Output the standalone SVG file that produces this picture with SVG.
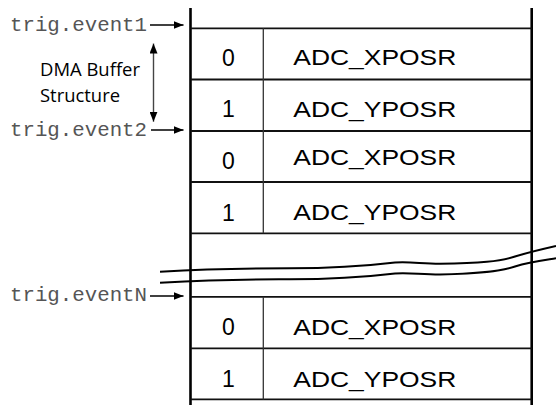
<svg xmlns="http://www.w3.org/2000/svg" width="556" height="405" viewBox="0 0 556 405">
<style>
.frame{stroke:#000;stroke-width:2.6;fill:none}
.hl{stroke:#111;stroke-width:1.8;fill:none}
.div{stroke:#333;stroke-width:1.3;fill:none}
.num{font-family:"Liberation Sans",Arial,sans-serif;font-size:23px;fill:#000;text-anchor:middle}
.reg{font-family:"Liberation Sans",Arial,sans-serif;font-size:22.5px;fill:#000}
.mono{font-family:"Liberation Mono","Courier New",monospace;font-size:20.7px;fill:#555}
.lbl{font-family:"Open Sans","Liberation Sans",sans-serif;font-size:18.5px;fill:#000}
.arr{stroke:#000;stroke-width:1.5;fill:none}
.dbl{stroke:#444;stroke-width:1.4;fill:none}
.wave{stroke:#000;stroke-width:2;fill:none}
</style>
<defs>
<marker id="ah" viewBox="0 0 10 8" refX="10" refY="4" markerWidth="10" markerHeight="8" markerUnits="userSpaceOnUse" orient="auto">
<path d="M0,0 L10,4 L0,8 Z" fill="#000"/>
</marker>
<marker id="ahs" viewBox="0 0 10 8" refX="10" refY="4" markerWidth="10" markerHeight="8" markerUnits="userSpaceOnUse" orient="auto-start-reverse">
<path d="M0,0 L10,4 L0,8 Z" fill="#000"/>
</marker>
</defs>
<g id="buffer-frame">
<line class="frame" x1="190.5" y1="8" x2="190.5" y2="405"/>
<line class="frame" x1="531.7" y1="8" x2="531.7" y2="405"/>
<line class="hl" x1="190.5" y1="28.3" x2="531.7" y2="28.3"/>
<line class="hl" x1="190.5" y1="79.5" x2="531.7" y2="79.5"/>
<line class="hl" x1="190.5" y1="131" x2="531.7" y2="131"/>
<line class="hl" x1="190.5" y1="182" x2="531.7" y2="182"/>
<line class="hl" x1="190.5" y1="233.3" x2="531.7" y2="233.3"/>
<line class="hl" x1="190.5" y1="296.8" x2="531.7" y2="296.8"/>
<line class="hl" x1="190.5" y1="348.3" x2="531.7" y2="348.3"/>
<line class="hl" x1="190.5" y1="399.4" x2="531.7" y2="399.4"/>
<line class="div" x1="263.3" y1="28.3" x2="263.3" y2="233.3"/>
<line class="div" x1="263.3" y1="296.8" x2="263.3" y2="399.4"/>
</g>
<g id="row1">
<text class="num" x="228.3" y="65.5">0</text>
<text class="reg" x="293.3" y="65" textLength="163" lengthAdjust="spacingAndGlyphs">ADC_XPOSR</text>
</g>
<g id="row2">
<text class="num" x="228.3" y="117">1</text>
<text class="reg" x="293.3" y="116.5" textLength="163" lengthAdjust="spacingAndGlyphs">ADC_YPOSR</text>
</g>
<g id="row3">
<text class="num" x="228.3" y="169">0</text>
<text class="reg" x="293.3" y="165" textLength="163" lengthAdjust="spacingAndGlyphs">ADC_XPOSR</text>
</g>
<g id="row4">
<text class="num" x="228.3" y="220.5">1</text>
<text class="reg" x="293.3" y="220" textLength="163" lengthAdjust="spacingAndGlyphs">ADC_YPOSR</text>
</g>
<g id="row5">
<text class="num" x="228.3" y="335">0</text>
<text class="reg" x="293.3" y="335" textLength="163" lengthAdjust="spacingAndGlyphs">ADC_XPOSR</text>
</g>
<g id="row6">
<text class="num" x="228.3" y="386.5">1</text>
<text class="reg" x="293.3" y="386.5" textLength="163" lengthAdjust="spacingAndGlyphs">ADC_YPOSR</text>
</g>
<g id="break">
<path class="wave" d="M160,271.7 C200,269.5 240,268.3 290,268.3 C340,268.3 370,265.5 395,262.5 C410,261.5 420,263.5 440,263.8 C480,263.3 500,261.5 515,256.5 C530,252 545,248.5 556,246"/>
<path class="wave" d="M160,282.7 C200,280.5 240,279 290,279.3 C340,279.3 370,276.5 395,273.5 C410,272.5 420,274.5 440,274.5 C480,273.5 500,271.5 515,266.5 C530,261.5 545,260 556,258.3"/>
</g>
<g id="labels">
<text class="mono" x="10" y="30.5" textLength="137" lengthAdjust="spacingAndGlyphs">trig.event1</text>
<text class="mono" x="10" y="135.5" textLength="137" lengthAdjust="spacingAndGlyphs">trig.event2</text>
<text class="mono" x="10" y="301" textLength="137" lengthAdjust="spacingAndGlyphs">trig.eventN</text>
<text class="lbl" x="40" y="76" textLength="100" lengthAdjust="spacingAndGlyphs">DMA Buffer</text>
<text class="lbl" x="40" y="101.5" textLength="80" lengthAdjust="spacingAndGlyphs">Structure</text>
</g>
<g id="connectors">
<line class="arr" x1="150" y1="25" x2="183.5" y2="25" marker-end="url(#ah)"/>
<line class="arr" x1="151" y1="130" x2="183.5" y2="130" marker-end="url(#ah)"/>
<line class="arr" x1="150" y1="296" x2="183.5" y2="296" marker-end="url(#ah)"/>
<line class="dbl" x1="153.5" y1="43.5" x2="153.5" y2="121.7" marker-start="url(#ahs)" marker-end="url(#ahs)"/>
</g>
</svg>
